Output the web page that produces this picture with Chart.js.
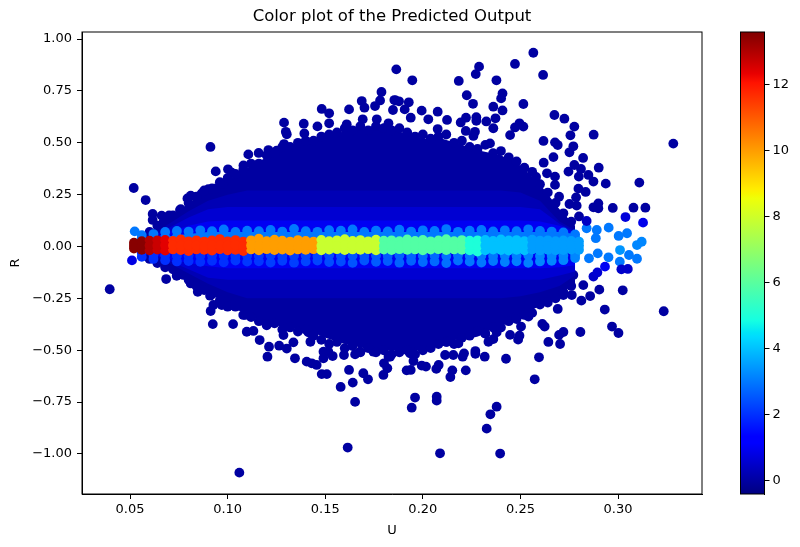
<!DOCTYPE html>
<html>
<head>
<meta charset="utf-8">
<title>Color plot of the Predicted Output</title>
<script src="https://cdn.jsdelivr.net/npm/chart.js@4/dist/chart.umd.min.js"></script>
<style>
  html, body { margin: 0; padding: 0; background: #fff; }
  #plotCanvas { position: absolute; left: 0; top: 0; }
  #barCanvas { position: absolute; left: 730px; top: 0; }
</style>
</head>
<body>
<canvas id="plotCanvas" width="800" height="547"></canvas>
<canvas id="barCanvas" width="70" height="547"></canvas>
<script>
const plotTitle = 'Color plot of the Predicted Output';
const uTicks = [0.05, 0.10, 0.15, 0.20, 0.25, 0.30];
const rTicks = [-1.00, -0.75, -0.50, -0.25, 0.00, 0.25, 0.50, 0.75, 1.00];
const colorTicks = [0, 2, 4, 6, 8, 10, 12];
const colorRange = [-0.4, 13.6];

// scattered points around the mass, all near zero output
const outerU = [
  .2566,.2472,.2288,.2271,.2616,.1864,.1946,.2184,.2377,.2408,.2401,.2225,.2257,.2361,.2408,.2515,.2674,.2725,.2776,.2756,
  .2875,.3283,.2618,.2677,.2691,.2771,.2751,.2821,.2669,.2619,.2901,.2776,.2810,.2746,.2636,.2848,.2799,.2874,.2937,.3109,
  .2580,.2677,.2677,.2797,.2834,.2698,.2785,.2899,.2874,.2899,.2973,.3079,.3140,.2800,.2751,.2788,
  .2076,.1994,.2124,.2028,.1938,.1907,.1928,.1878,.1854,.1847,.2221,.2194,.2274,.2274,.2325,.2372,.2220,.2267,.2259,.2495,
  .2515,.2472,.2447,.2076,.2361,.2344,
  .1788,.1781,.1687,.1701,.1755,.1861,.1622,.1482,.1520,.1289,.1298,.1303,.1390,.1393,.1460,.1520,.1764,.1692,.1824,.1610,
  .0912,.0939,.1002,.1021,.1106,.1159,.1209,.1251,.1289,.1081,.0519,.0580,.0616,.0616,.0662,.0700,.0671,.0794,.0811,.0756,
  .0867,.0901,.0941,.0978,
  .3024,.2904,.2932,.3234,.2969,.3002,.2807,.2857,.2812,.2691,.2541,.2612,.2624,.2720,.2698,.2703,.2643,.2595,.2573,.2495,
  .2488,.2503,.2447,.2426,.2378,.2361,.2336,.2317,.2269,.2269,.2211,.2204,.2156,.2114,.2182,.2122,.2220,.2151,.2141,.2081,
  .2069,.2016,.1994,.1952,.1938,.1917,.1934,.1934,.1832,.2071,.2071,.1960,.1943,.2378,.2346,.2327,.2088,.2396,.2267,.2319,
  .2763,.2822,.2771,.2720,.2481,
  .0396,.0685,.0739,.0773,.0811,.0847,.0910,.0927,.0913,.0970,.0924,.1028,.1021,.1089,.1098,.1132,.1164,.1212,.1204,.1264,
  .1303,.1345,.1337,.1405,.1431,.1456,.1482,.1508,.1424,.1414,.1491,.1516,.1491,.1538,.1596,.1622,.1579,.1641,.1653,.1615,
  .1060,.1695,.1719,.1798,.1818,.1801,.1824,.1747,.1678,.1653,.1200,.1286
];
const outerR = [
  .934,.880,.867,.831,.827,.854,.801,.798,.801,.738,.714,.729,.688,.674,.656,.687,.634,.616,.578,.536,
  .539,.496,.509,.502,.489,.483,.454,.427,.431,.404,.380,.393,.374,.361,.353,.345,.337,.313,.303,.308,
  .335,.337,.297,.279,.263,.240,.237,.208,.189,.184,.186,.187,.187,.145,.205,.197,
  .650,.655,.610,.613,.621,.661,.695,.700,.706,.658,.621,.598,.623,.606,.603,.618,.557,.553,.533,.594,
  .578,.574,.537,.566,.570,.497,
  .745,.704,.701,.669,.677,.704,.661,.663,.642,.597,.553,.541,.592,.545,.579,.594,.613,.613,.594,.589,
  .480,.362,.372,.356,.444,.451,.465,.462,.494,.391,.282,.224,.157,.128,.149,.150,.117,.232,.245,.176,
  .256,.276,.280,.304,
  -.211,-.208,-.304,-.312,-.386,-.417,-.412,-.239,-.261,-.301,-.338,-.373,-.386,-.412,-.426,-.470,-.460,-.534,-.640,-.430,
  -.449,-.386,-.426,-.541,-.414,-.446,-.459,-.531,-.504,-.517,-.515,-.531,-.523,-.523,-.467,-.459,-.597,-.597,-.629,-.571,
  -.590,-.579,-.574,-.552,-.595,-.597,-.504,-.515,-.531,-.724,-.743,-.728,-.777,-.772,-.809,-.878,-.997,-.998,-.414,-.419,
  -.234,-.186,-.137,-.234,-.338,
  -.206,-.157,-.141,-.137,-.178,-.218,-.237,-.282,-.311,-.282,-.374,-.374,-.282,-.330,-.411,-.407,-.451,-.483,-.531,-.478,
  -.492,-.539,-.462,-.555,-.563,-.571,-.615,-.615,-.459,-.414,-.507,-.507,-.539,-.528,-.523,-.595,-.677,-.656,-.749,-.969,
  -1.090,-.611,-.640,-.619,-.587,-.563,-.531,-.507,-.507,-.520,-.375,-.427
];

// points along the rim of the mass
const rimU = [.060,.064,.068,.072,.076,.080,.084,.088,.092,.096,.100,.104,.108,.112,.116,.120,.124,.128,.132,.136,.140,.144,.148,.152,.156,.160,.164,.168,.172,.176,.180,.184,.188,.192,.196,.200,.204,.208,.212,.216,.220,.224,.228,.232,.236,.240,.244,.248,.252,.256,.260,.264,.268,.272,.276];
const rimTopR = [.07,.10,.12,.15,.18,.21,.24,.27,.28,.31,.33,.35,.37,.40,.40,.44,.45,.48,.48,.50,.51,.51,.53,.54,.55,.57,.56,.58,.56,.58,.57,.56,.57,.55,.53,.54,.52,.53,.54,.50,.51,.48,.47,.49,.45,.46,.43,.41,.38,.36,.30,.26,.21,.16,.12];
const rimBottomR = [-.06,-.08,-.10,-.11,-.13,-.16,-.19,-.21,-.23,-.26,-.29,-.29,-.33,-.34,-.36,-.38,-.37,-.40,-.39,-.41,-.40,-.43,-.45,-.47,-.46,-.49,-.48,-.51,-.49,-.51,-.50,-.52,-.51,-.50,-.52,-.50,-.49,-.47,-.46,-.47,-.44,-.43,-.41,-.42,-.39,-.39,-.36,-.35,-.33,-.32,-.28,-.27,-.25,-.22,-.19];

// lighter points at both tips of the band
const fringeU = [.2839,.2952,.3003,.3046,.3097,.3121,.2891,.2886,.3010,.3056,.3097,.2951,.3009,.2851,.2896,.2933,.3038,.3128,.3017,.3050,.2874,.2894,.2839,.0524,.0510];
const fringeR = [.088,.091,.051,.064,.007,.023,.080,.040,-.017,-.041,-.059,-.052,-.073,-.057,-.033,-.097,.142,.115,-.110,-.108,-.145,-.125,.123,.073,-.067];
const fringeV = [3,3,3,3,3.2,3.2,3,3,3.4,3,3,3,3,3,3,1,.7,.9,.5,.5,.5,.6,.4,3,.8];

// outline of the overlapping mass, output grows toward R = 0
const bandU = [.058,.07,.08,.09,.10,.11,.12,.13,.14,.15,.16,.17,.18,.19,.20,.21,.22,.23,.24,.25,.26,.27,.278];
const massTopR = [.06,.13,.21,.27,.32,.38,.43,.48,.50,.53,.555,.565,.565,.55,.52,.52,.49,.46,.44,.39,.30,.18,.10];
const massBottomR = [-.05,-.10,-.16,-.22,-.28,-.33,-.37,-.39,-.40,-.44,-.47,-.49,-.50,-.505,-.50,-.47,-.44,-.415,-.385,-.335,-.285,-.235,-.175];
const deepTopR = [.04,.11,.17,.22,.25,.27,.27,.27,.27,.27,.27,.27,.27,.27,.27,.27,.27,.27,.27,.26,.22,.12,.08];
const deepBottomR = [-.03,-.08,-.13,-.18,-.22,-.25,-.25,-.25,-.25,-.25,-.25,-.25,-.25,-.25,-.25,-.25,-.25,-.25,-.25,-.24,-.22,-.19,-.14];
const midTopR = [.035,.09,.14,.18,.19,.19,.19,.19,.19,.19,.19,.19,.19,.19,.19,.19,.19,.19,.19,.19,.18,.11,.07];
const midBottomR = [-.03,-.07,-.11,-.15,-.16,-.16,-.16,-.16,-.16,-.16,-.16,-.16,-.16,-.16,-.16,-.16,-.16,-.16,-.16,-.16,-.16,-.14,-.12];
const blueTopR = [.03,.07,.10,.12,.125,.125,.125,.125,.125,.125,.125,.125,.125,.125,.125,.125,.125,.125,.125,.125,.12,.10,.065];
const blueBottomR = [-.03,-.06,-.08,-.095,-.105,-.105,-.105,-.105,-.105,-.105,-.105,-.105,-.105,-.105,-.105,-.105,-.105,-.105,-.105,-.105,-.105,-.10,-.09];
const azureTopR = [.03,.05,.06,.07,.07,.07,.07,.07,.07,.07,.07,.07,.07,.07,.07,.07,.07,.07,.07,.07,.07,.07,.06];
const azureBottomR = [-.02,-.03,-.03,-.03,-.03,-.03,-.03,-.03,-.03,-.03,-.03,-.03,-.03,-.03,-.03,-.03,-.03,-.03,-.03,-.03,-.03,-.03,-.03];

// rows of visible points along the blue bands
const rowU = [.056,.062,.068,.074,.080,.086,.092,.098,.104,.110,.116,.122,.128,.134,.140,.146,.152,.158,.164,.170,.176,.182,.188,.194,.200,.206,.212,.218,.224,.230,.236,.242,.248,.254,.260,.266,.272,.278];
const upperRowR = [.055,.060,.070,.075,.072,.078,.074,.082,.070,.076,.074,.080,.072,.085,.074,.071,.079,.076,.082,.070,.077,.073,.081,.072,.078,.075,.084,.071,.076,.080,.073,.078,.074,.083,.075,.072,.068,.058];
const innerRowR = [.040,.042,.045,.046,.044,.047,.043,.045,.048,.044,.046,.043,.047,.045,.044,.048,.043,.046,.045,.047,.044,.046,.043,.048,.045,.044,.047,.043,.046,.045,.048,.044,.046,.043,.047,.045,.044,.042];
const lowerInnerR = [-.030,-.040,-.042,-.044,-.043,-.045,-.042,-.044,-.046,-.043,-.045,-.042,-.046,-.044,-.043,-.046,-.042,-.045,-.044,-.046,-.043,-.045,-.042,-.046,-.044,-.043,-.046,-.042,-.045,-.044,-.046,-.043,-.045,-.042,-.046,-.044,-.043,-.041];
const lowerOuterR = [-.050,-.060,-.066,-.072,-.070,-.074,-.069,-.076,-.068,-.073,-.071,-.077,-.069,-.078,-.072,-.068,-.075,-.073,-.079,-.068,-.074,-.070,-.078,-.069,-.075,-.072,-.080,-.068,-.073,-.077,-.070,-.075,-.071,-.079,-.072,-.069,-.066,-.056];
const lowerRowV = [2,2,2,2,2,2,2,2,2.1,2.1,2.1,2.2,2.2,2.2,2.3,2.3,2.4,2.4,2.5,2.5,2.6,2.6,2.7,2.7,2.8,2.8,2.9,2.9,3,3,3,3.1,3.1,3.1,3.2,3.2,3.2,3.2];

// central line, output falls as U grows
const centreU = [.052,.056,.060,.064,.068,.072,.076,.080,.084,.088,.092,.096,.100,.104,.108,.112,.116,.120,.124,.128,.132,.136,.140,.144,.148,.152,.156,.160,.164,.168,.172,.176,.180,.184,.188,.192,.196,.200,.204,.208,.212,.216,.220,.224,.228,.232,.236,.240,.244,.248,.252,.256,.260,.264,.268,.272,.276,.280];
const centreTopR = [.018,.026,.028,.030,.032,.027,.034,.025,.030,.024,.029,.036,.025,.031,.024,.030,.038,.026,.033,.028,.024,.031,.027,.024,.032,.026,.030,.035,.027,.031,.025,.033,.028,.030,.026,.034,.027,.032,.025,.029,.035,.026,.031,.028,.030,.032,.027,.034,.029,.031,.026,.033,.028,.030,.026,.029,.027,.024];
const centreMidR = [.004,.006,.005,.004,.006,.005,.004,.006,.005,.003,.006,.005,.004,.006,.003,.005,.006,.004,.005,.003,.006,.004,.005,.006,.004,.005,.003,.006,.005,.004,.006,.005,.003,.006,.004,.005,.006,.004,.005,.003,.006,.004,.005,.006,.004,.005,.003,.006,.005,.004,.006,.005,.004,.003,.005,.006,.004,.005];
const centreBottomR = [-.010,-.016,-.018,-.015,-.020,-.014,-.017,-.022,-.014,-.016,-.020,-.013,-.018,-.016,-.022,-.014,-.018,-.013,-.017,-.015,-.020,-.014,-.016,-.013,-.018,-.015,-.013,-.017,-.014,-.016,-.013,-.018,-.015,-.017,-.013,-.016,-.014,-.018,-.015,-.013,-.017,-.014,-.016,-.018,-.024,-.018,-.015,-.017,-.020,-.016,-.018,-.015,-.019,-.016,-.018,-.017,-.015,-.016];
const centreV = [13.5,13.5,13,12.7,12.4,11.7,11.7,11.7,11.7,11.7,11.7,11.7,11.7,11.7,11.7,10,10,10,10,10,10,10,10,10,7.9,7.9,7.9,7.9,7.9,7.9,7.9,7.9,5.9,5.9,5.9,5.9,5.9,5.9,5.9,5.9,5.9,5.9,5.9,5,5,4,4,4,4,4,4,3.5,3.5,3.5,3.5,3.5,3.5,3.5];

// Stops of the jet colour map, as [position, level]
const jetRed = [[0, 0], [0.35, 0], [0.66, 1], [0.89, 1], [1, 0.5]];
const jetGreen = [[0, 0], [0.125, 0], [0.375, 1], [0.64, 1], [0.91, 0], [1, 0]];
const jetBlue = [[0, 0.5], [0.11, 1], [0.34, 1], [0.65, 0], [1, 0]];

function channel(stops, t) {
  for (let i = 1; i < stops.length; i++) {
    if (t <= stops[i][0]) {
      const a = stops[i - 1];
      const b = stops[i];
      return Math.round(255 * (a[1] + (b[1] - a[1]) * (t - a[0]) / (b[0] - a[0])));
    }
  }
  return 0;
}

function jetAt(t) {
  return `rgb(${channel(jetRed, t)},${channel(jetGreen, t)},${channel(jetBlue, t)})`;
}

function jet(value) {
  return jetAt((value - colorRange[0]) / (colorRange[1] - colorRange[0]));
}

function toPoints(us, rs) {
  return us.map((u, i) => ({ x: u, y: rs[i] }));
}

const datasets = [];

/**
 * Adds a set of points, later calls paint over earlier ones
 */
function addPoints(us, rs, colors) {
  datasets.push({
    data: toPoints(us, rs),
    backgroundColor: colors,
    pointRadius: 4.9,
    borderWidth: 0,
    pointBorderWidth: 0,
    order: 1000 - datasets.length
  });
}

/**
 * Adds the area between two outlines
 */
function addBand(topR, bottomR, value) {
  const color = jet(value);
  datasets.push({
    data: toPoints(bandU, topR),
    showLine: true,
    fill: '+1',
    backgroundColor: color,
    borderColor: color,
    borderWidth: 0,
    pointRadius: 0,
    order: 1000 - datasets.length
  });
  datasets.push({
    data: toPoints(bandU, bottomR),
    showLine: true,
    fill: false,
    borderWidth: 0,
    pointRadius: 0,
    order: 1000 - datasets.length
  });
}

addBand(massTopR, massBottomR, 0);
addPoints(outerU, outerR, jet(0));
addPoints(rimU, rimTopR, jet(0));
addPoints(rimU, rimBottomR, jet(0));
addBand(deepTopR, deepBottomR, 0.25);
addBand(midTopR, midBottomR, 0.6);
addBand(blueTopR, blueBottomR, 1);
addBand(azureTopR, azureBottomR, 3);
addPoints(fringeU, fringeR, fringeV.map(jet));
addPoints(rowU, upperRowR, jet(3));
addPoints(rowU, innerRowR, jet(3));
addPoints(rowU, lowerOuterR, lowerRowV.map(jet));
addPoints(rowU, lowerInnerR, lowerRowV.map(jet));
addPoints(centreU, centreTopR, centreV.map(jet));
addPoints(centreU, centreBottomR, centreV.map(jet));
addPoints(centreU, centreMidR, centreV.map(jet));

const axisFont = { family: 'DejaVu Sans', size: 13 };

// The two missing sides of the box
const frame = {
  id: 'frame',
  afterDraw(chart) {
    const { ctx, chartArea: a } = chart;
    ctx.save();
    ctx.strokeStyle = '#000';
    ctx.lineWidth = 1;
    ctx.strokeRect(a.left, a.top, a.right - a.left, a.bottom - a.top);
    ctx.restore();
  }
};

function tickMarks() {
  return { drawOnChartArea: false, tickLength: 5, color: '#000', tickWidth: 1 };
}

new Chart(document.getElementById('plotCanvas'), {
  type: 'scatter',
  data: { datasets },
  plugins: [frame],
  options: {
    responsive: false,
    animation: false,
    devicePixelRatio: 1,
    layout: { padding: { right: 98, left: 0, top: 0, bottom: 0 } },
    plugins: {
      legend: { display: false },
      tooltip: { enabled: false },
      title: {
        display: true,
        text: plotTitle,
        fullSize: false,
        color: '#000',
        font: { family: 'DejaVu Sans', size: 16.5, weight: 'normal' },
        padding: { top: 7, bottom: 5.2 }
      }
    },
    scales: {
      x: {
        type: 'linear',
        min: 0.0254,
        max: 0.343,
        afterFit: s => { s.height = 53; },
        afterBuildTicks: s => { s.ticks = uTicks.map(value => ({ value })); },
        title: { display: true, text: 'U', color: '#000', font: axisFont, padding: { top: 0, bottom: 9 } },
        border: { color: '#000' },
        grid: tickMarks(),
        ticks: {
          color: '#000',
          font: axisFont,
          maxRotation: 0,
          padding: 3,
          callback: v => v.toFixed(2)
        }
      },
      y: {
        type: 'linear',
        min: -1.193,
        max: 1.034,
        afterFit: s => { s.width = 82; },
        afterBuildTicks: s => { s.ticks = rTicks.map(value => ({ value })); },
        title: { display: true, text: 'R', color: '#000', font: axisFont, padding: { top: 8, bottom: 0 } },
        border: { color: '#000' },
        grid: tickMarks(),
        ticks: {
          color: '#000',
          font: axisFont,
          padding: 5,
          callback: v => v.toFixed(2).replace('-', '\u2212')
        }
      }
    }
  }
});

// Colour bar, one floating bar over the whole range
const barCanvas = document.getElementById('barCanvas');
const barGradient = barCanvas.getContext('2d').createLinearGradient(0, 494, 0, 32);
[0, 0.05, 0.11, 0.125, 0.2, 0.34, 0.35, 0.375, 0.45, 0.55, 0.64, 0.65, 0.66, 0.7, 0.75, 0.8, 0.85, 0.89, 0.91, 0.95, 1]
  .forEach(t => barGradient.addColorStop(t, jetAt(t)));

new Chart(barCanvas, {
  type: 'bar',
  data: {
    labels: [''],
    datasets: [{
      data: [colorRange],
      backgroundColor: barGradient,
      borderWidth: 0,
      barPercentage: 1,
      categoryPercentage: 1
    }]
  },
  plugins: [frame],
  options: {
    responsive: false,
    animation: false,
    devicePixelRatio: 1,
    layout: { padding: { left: 10.5, right: 0, top: 32, bottom: 53 } },
    plugins: { legend: { display: false }, tooltip: { enabled: false } },
    scales: {
      x: { display: false },
      y: {
        position: 'right',
        min: colorRange[0],
        max: colorRange[1],
        afterFit: s => { s.width = 35.5; },
        afterBuildTicks: s => { s.ticks = colorTicks.map(value => ({ value })); },
        border: { color: '#000' },
        grid: tickMarks(),
        ticks: { color: '#000', font: axisFont, padding: 3 }
      }
    }
  }
});
</script>
</body>
</html>
